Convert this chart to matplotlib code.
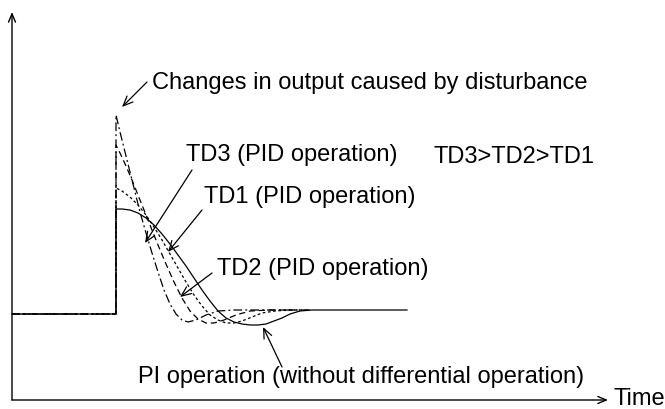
import matplotlib.pyplot as plt

plt.rcParams['font.family'] = ['Liberation Sans', 'DejaVu Sans']

# baseline before the disturbance and step time
base_t = [0, 104]
base_v = [86, 86]

# PI operation (solid)
pi_t = [104, 110, 118, 126, 134, 142, 150, 158, 166, 174, 182, 190, 198, 206, 214,
        222, 230, 238, 246, 254, 262, 270, 278, 288, 300, 318, 395]
pi_v = [191, 191, 190, 187, 182, 175, 166, 156, 145, 134, 122, 110, 99, 89, 82,
        78, 76, 75, 75, 76, 79, 82, 86, 89, 90, 90, 90]

# TD1 (PID operation)
td1_t = [104, 110, 118, 126, 134, 142, 150, 158, 166, 174, 182, 190, 198, 206, 214,
         222, 230, 240, 250, 263, 278, 298]
td1_v = [212, 209, 203, 195, 185, 173, 160, 146, 132, 118, 105, 94, 85, 80, 77,
         77, 79, 83, 87, 89, 90, 90]

# TD2 (PID operation)
td2_t = [104, 108, 114, 120, 126, 132, 138, 146, 154, 162, 170, 178, 186, 194, 202,
         212, 224, 238, 258, 288]
td2_v = [255, 247, 234, 220, 205, 190, 175, 155, 136, 118, 102, 89, 81, 77, 77,
         80, 85, 89, 90, 90]

# TD3 (PID operation)
td3_t = [104, 108, 113, 118, 123, 128, 134, 140, 146, 152, 158, 164, 170, 176, 184,
         194, 206, 223, 248, 298]
td3_v = [285, 268, 248, 228, 208, 188, 167, 147, 128, 110, 96, 86, 80, 78, 80,
         85, 89, 90, 90, 90]

fig = plt.figure(figsize=(6.65, 4.09), dpi=100)
ax = fig.add_axes([0, 0, 1, 1])
ax.set_xlim(-12, 653)
ax.set_ylim(-9, 400)
ax.axis('off')

lw = 0.9
ax.plot(base_t + td3_t, base_v + td3_v, color='black', lw=lw, ls=(0, (7, 2.5, 1.5, 2.5)))
ax.plot(base_t + td2_t, base_v + td2_v, color='black', lw=lw, ls=(0, (5, 3)))
ax.plot(base_t + td1_t, base_v + td1_v, color='black', lw=lw, ls=(0, (2.2, 2)))
ax.plot(base_t + pi_t, base_v + pi_v, color='black', lw=lw)

# axes with arrows
axis_arrow = dict(arrowstyle='->,head_length=0.6,head_width=0.25', color='black', lw=1.0,
                  shrinkA=0, shrinkB=0)
ax.annotate('', xy=(0, 388), xytext=(0, 0), arrowprops=axis_arrow)
ax.annotate('', xy=(596, 0), xytext=(0, 0), arrowprops=axis_arrow)

fs = 17
ptr = dict(arrowstyle='->,head_length=0.7,head_width=0.3', color='black', lw=0.9,
           shrinkA=0, shrinkB=0)

ax.annotate('', xy=(110, 293), xytext=(135, 318), arrowprops=ptr)
ax.text(140, 311, 'Changes in output caused by disturbance', fontsize=fs, va='baseline')

ax.annotate('', xy=(133, 157), xytext=(180, 230), arrowprops=ptr)
ax.text(174, 239, 'TD3 (PID operation)', fontsize=fs, va='baseline')

ax.annotate('', xy=(156, 148), xytext=(190, 190), arrowprops=ptr)
ax.text(192, 197, 'TD1 (PID operation)', fontsize=fs, va='baseline')

ax.annotate('', xy=(168, 103), xytext=(200, 127), arrowprops=ptr)
ax.text(205, 125, 'TD2 (PID operation)', fontsize=fs, va='baseline')

ax.text(421, 237, 'TD3>TD2>TD1', fontsize=fs, va='baseline')

ax.annotate('', xy=(251, 73), xytext=(270, 33), arrowprops=ptr)
ax.text(126, 17, 'PI operation (without differential operation)', fontsize=fs, va='baseline')

ax.text(601, -5, 'Time', fontsize=fs, va='baseline')

plt.savefig('out.png', dpi=100)
